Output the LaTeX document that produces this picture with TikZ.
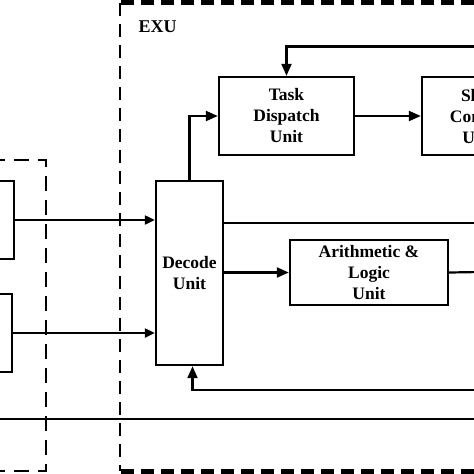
\documentclass[tikz,border=0pt]{standalone}
\usepackage{fontspec}
\setmainfont{Liberation Serif}
\usetikzlibrary{arrows.meta}
\begin{document}
\begin{tikzpicture}[x=1pt,y=-1pt,
  unitbox/.style={draw,line width=2.4pt,inner sep=0pt,align=center,
    font=\bfseries\fontsize{17.5}{21}\selectfont},
  conn/.style={line width=2.2pt},
  arr/.style={conn,-{Triangle[length=12pt,width=10pt]}},
  sarr/.style={conn,-{Triangle[length=10pt,width=9pt]}},
  exuv/.style={line width=2.6pt,dash pattern=on 13pt off 8pt},
  exuh/.style={line width=5pt,dash pattern=on 13pt off 7pt},
  leftdash/.style={line width=2.4pt,dash pattern=on 15pt off 9pt}]
\useasboundingbox (0,0) rectangle (474,474);
\clip (0,0) rectangle (474,474);
\fill[white] (0,0) rectangle (474,474);
% dashed regions
\draw[exuv] (120,3) -- (120,471);
\draw[exuh] (121,2.5) -- (480,2.5);
\draw[exuh] (121,471) -- (480,471);
\draw[leftdash] (-10,160) -- (46,160) -- (46,472);
\draw[leftdash] (-10,471) -- (46,471);
\node[anchor=base west,font=\bfseries\fontsize{18}{20}\selectfont] (exu) at (135,32) {EXU};
% boxes
\node[unitbox,minimum width=54pt,minimum height=78pt] (L1) at (-13,220) {};
\node[unitbox,minimum width=54pt,minimum height=78pt] (L2) at (-15,333) {};
\node[unitbox,minimum width=67pt,minimum height=184pt] (dec) at (189.5,273) {Decode\\Unit};
\node[unitbox,minimum width=135pt,minimum height=78pt] (task) at (286.5,116) {Task\\Dispatch\\Unit};
\node[unitbox,minimum width=114pt,minimum height=78pt] (shift) at (479,116) {Shift\\Control\\Unit};
\node[unitbox,minimum width=158pt,minimum height=65pt] (alu) at (369,272.5) {Arithmetic \&\\Logic\\Unit};
% free ends
\coordinate (fb) at (480,46.5);
\coordinate (r1) at (480,223);
\coordinate (r2) at (480,272);
\coordinate (r3) at (480,390);
\coordinate (bl) at (-10,419);
\coordinate (br) at (480,419);
% connectors
\draw[sarr] (L1.east) -- (dec.west |- L1.east);
\draw[sarr] (L2.east) -- (dec.west |- L2.east);
\draw[arr] (dec.north) |- (task.west);
\draw[arr] (task.east) -- (shift.west);
\draw[arr] (fb) -| (task.north);
\draw[conn] (dec.east |- r1) -- (r1);
\draw[arr] (dec.east |- alu.west) -- (alu.west);
\draw[conn] (alu.east) -- (r2);
\draw[arr] (r3) -| ([xshift=3pt]dec.south);
\draw[conn] (bl) -- (br);
\end{tikzpicture}
\end{document}
